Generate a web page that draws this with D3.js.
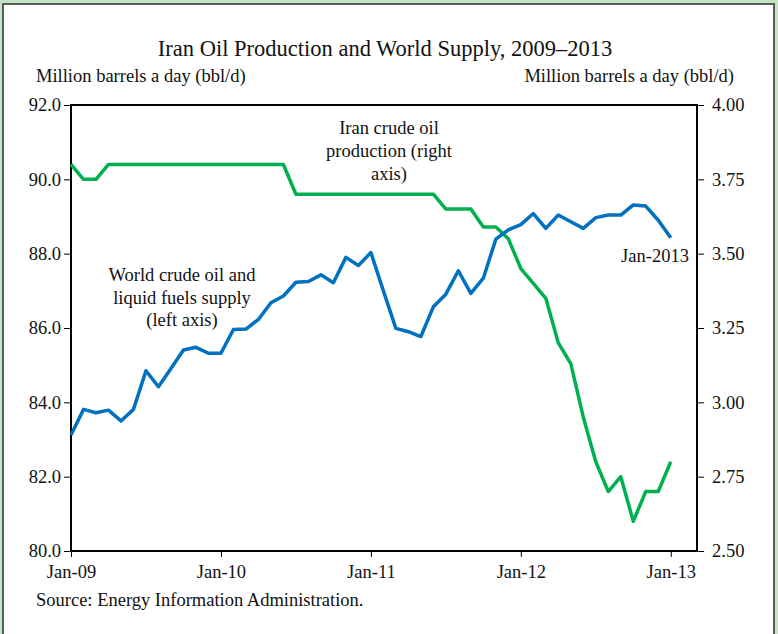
<!DOCTYPE html>
<html>
<head>
<meta charset="utf-8">
<script src="https://cdn.jsdelivr.net/npm/d3@7"></script>
<style>
	body { margin: 0; background: #c6e3c6; }
	svg { display: block; }
	text { font-family: "Liberation Serif", "Times New Roman", serif; fill: #111; }
</style>
</head>
<body>
<svg id="chart" width="778" height="634"></svg>
<script>
// month index 0 = Jan-09 ... 48 = Jan-13
var xTicks = [0, 12, 24, 36, 48];
var xTickLabels = ["Jan-09", "Jan-10", "Jan-11", "Jan-12", "Jan-13"];
var leftTicks = [80, 82, 84, 86, 88, 90, 92];
var rightTicks = [2.50, 2.75, 3.00, 3.25, 3.50, 3.75, 4.00];

// World crude oil and liquid fuels supply (left axis)
var worldSupply = [
	83.12, 83.81, 83.72, 83.79, 83.50, 83.81, 84.85, 84.42, 84.91, 85.41, 85.48, 85.32,
	85.32, 85.96, 85.97, 86.23, 86.68, 86.86, 87.23, 87.25, 87.43, 87.22, 87.90, 87.68,
	88.03, 87.00, 85.99, 85.90, 85.77, 86.57, 86.91, 87.54, 86.93, 87.34, 88.39, 88.64,
	88.78, 89.08, 88.68, 89.04, 88.86, 88.68, 88.97, 89.04, 89.04, 89.31, 89.28, 88.90,
	88.43
];

// Iran crude oil production (right axis)
var iranProduction = [
	3.80, 3.75, 3.75, 3.80, 3.80, 3.80, 3.80, 3.80, 3.80, 3.80, 3.80, 3.80,
	3.80, 3.80, 3.80, 3.80, 3.80, 3.80, 3.70, 3.70, 3.70, 3.70, 3.70, 3.70,
	3.70, 3.70, 3.70, 3.70, 3.70, 3.70, 3.65, 3.65, 3.65, 3.59, 3.59, 3.55,
	3.45, 3.40, 3.35, 3.20, 3.13, 2.95, 2.80, 2.70, 2.75, 2.60, 2.70, 2.70,
	2.80
];

var svg = d3.select("#chart");
var fontSize = 18.5;

// panel
svg.append("rect")
	.attr("x", 3).attr("y", 4)
	.attr("width", 771).attr("height", 640)
	.attr("fill", "#fff")
	.attr("stroke", "#5b5b5b")
	.attr("stroke-width", 2);

var plotLeft = 71, plotRight = 697, plotTop = 105, plotBottom = 551;

var x = d3.scaleLinear().domain([0, 50.1]).range([plotLeft, plotRight]);
var yL = d3.scaleLinear().domain([80, 92]).range([plotBottom, plotTop]);
var yR = d3.scaleLinear().domain([2.5, 4.0]).range([plotBottom, plotTop]);

// axes
var axL = svg.append("g")
	.attr("transform", "translate(" + plotLeft + ",0)")
	.call(d3.axisLeft(yL).tickValues(leftTicks).tickFormat(d3.format(".1f")).tickSize(7).tickPadding(3));
var axR = svg.append("g")
	.attr("transform", "translate(" + plotRight + ",0)")
	.call(d3.axisRight(yR).tickValues(rightTicks).tickFormat(d3.format(".2f")).tickSize(7).tickPadding(8));
var axB = svg.append("g")
	.attr("transform", "translate(0," + plotBottom + ")")
	.call(d3.axisBottom(x).tickValues(xTicks).tickFormat(function(d, i){ return xTickLabels[i]; }).tickSize(6).tickPadding(8));

[axL, axR, axB].forEach(function(g){
	g.select(".domain").remove();
	g.selectAll("line").attr("stroke", "#000");
	g.selectAll("text").attr("font-size", fontSize).attr("fill", "#111")
		.style("font-family", "'Liberation Serif', 'Times New Roman', serif");
});

// plot box
svg.append("rect")
	.attr("x", plotLeft).attr("y", plotTop)
	.attr("width", plotRight - plotLeft).attr("height", plotBottom - plotTop)
	.attr("fill", "none")
	.attr("stroke", "#000")
	.attr("stroke-width", 2);

// lines
var lineL = d3.line()
	.x(function(d, i){ return x(i); })
	.y(function(d){ return yL(d); });
var lineR = d3.line()
	.x(function(d, i){ return x(i); })
	.y(function(d){ return yR(d); });

svg.append("path")
	.datum(iranProduction)
	.attr("d", lineR)
	.attr("fill", "none")
	.attr("stroke", "#00b050")
	.attr("stroke-width", 3.5)
	.attr("stroke-linejoin", "round");

svg.append("path")
	.datum(worldSupply)
	.attr("d", lineL)
	.attr("fill", "none")
	.attr("stroke", "#0070c0")
	.attr("stroke-width", 3.5)
	.attr("stroke-linejoin", "round");

// texts
svg.append("text")
	.attr("x", 385).attr("y", 56)
	.attr("text-anchor", "middle")
	.attr("font-size", 22.5)
	.text("Iran Oil Production and World Supply, 2009\u20132013");

svg.append("text")
	.attr("x", 36).attr("y", 82)
	.attr("font-size", fontSize)
	.text("Million barrels a day (bbl/d)");

svg.append("text")
	.attr("x", 734).attr("y", 82)
	.attr("text-anchor", "end")
	.attr("font-size", fontSize)
	.text("Million barrels a day (bbl/d)");

function block(lines, cx, cy, gap){
	var t = svg.append("text")
		.attr("text-anchor", "middle")
		.attr("font-size", fontSize);
	lines.forEach(function(s, i){
		t.append("tspan").attr("x", cx).attr("y", cy + i * gap).text(s);
	});
}

block(["Iran crude oil", "production (right", "axis)"], 389, 134, 23);
block(["World crude oil and", "liquid fuels supply", "(left axis)"], 182, 281, 22.5);
block(["Jan-2013"], 655, 262, 0);

svg.append("text")
	.attr("x", 36).attr("y", 606)
	.attr("font-size", fontSize)
	.text("Source: Energy Information Administration.");
</script>
</body>
</html>
